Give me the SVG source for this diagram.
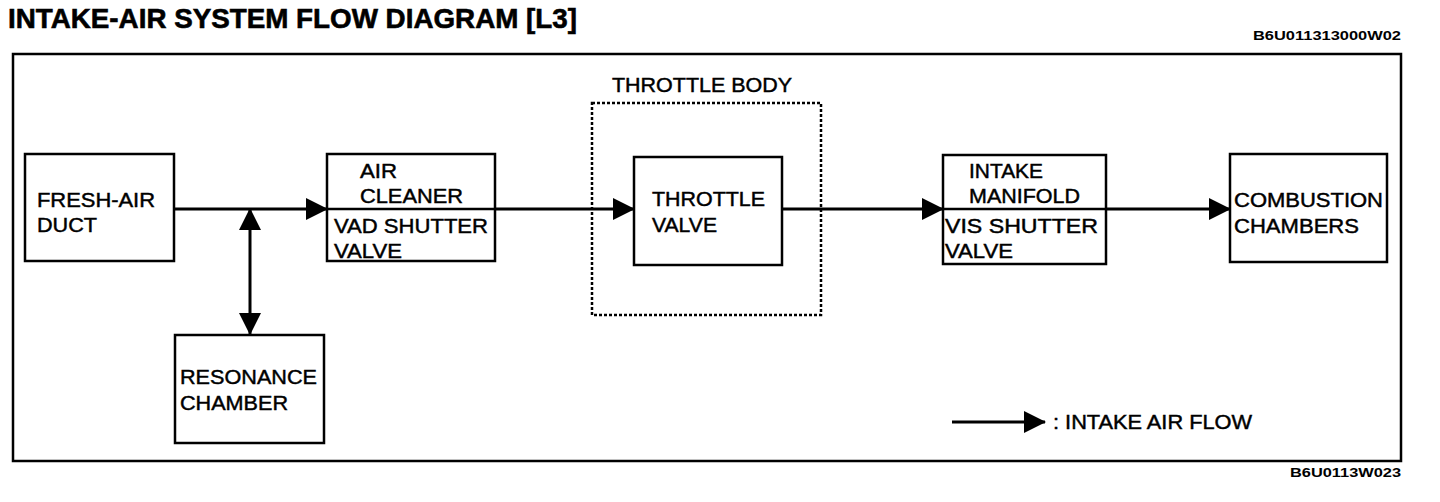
<svg xmlns="http://www.w3.org/2000/svg" width="1440" height="502" viewBox="0 0 1440 502">
<style>
  .box { fill: #fff; stroke: #000; stroke-width: 2.5; }
  .lbl { font-family: "Liberation Sans", Arial, sans-serif; font-size: 20px; fill: #000; stroke: #000; stroke-width: 0.45; }
  .code { font-family: "Liberation Sans", Arial, sans-serif; font-size: 12.5px; font-weight: bold; fill: #000; }
  .flow { stroke: #000; stroke-width: 3; fill: none; }
</style>
<defs>
  <marker id="ah" markerUnits="userSpaceOnUse" markerWidth="22" markerHeight="22" refX="21" refY="11" orient="auto" viewBox="0 0 22 22">
    <path d="M0,0 L22,11 L0,22 Z" fill="#000"/>
  </marker>
  <marker id="ahs" markerUnits="userSpaceOnUse" markerWidth="22" markerHeight="22" refX="21" refY="11" orient="auto-start-reverse" viewBox="0 0 22 22">
    <path d="M0,0 L22,11 L0,22 Z" fill="#000"/>
  </marker>
</defs>
<rect width="1440" height="502" fill="#fff"/>
<text x="8" y="28" font-family="Liberation Sans, Arial, sans-serif" font-size="28" font-weight="bold" stroke="#000" stroke-width="0.6" textLength="569" lengthAdjust="spacingAndGlyphs">INTAKE-AIR SYSTEM FLOW DIAGRAM [L3]</text>
<text class="code" x="1253" y="40" textLength="148" lengthAdjust="spacingAndGlyphs">B6U011313000W02</text>
<rect x="13" y="54" width="1388" height="407" fill="none" stroke="#000" stroke-width="2.5"/>
<text class="code" x="1290" y="477" textLength="111" lengthAdjust="spacingAndGlyphs">B6U0113W023</text>

<g id="throttle-body">
  <rect x="592" y="103" width="229" height="212" fill="none" stroke="#000" stroke-width="2.5" stroke-dasharray="3,2"/>
  <text class="lbl" x="612" y="92" textLength="180" lengthAdjust="spacingAndGlyphs">THROTTLE BODY</text>
</g>

<g id="connectors">
  <line class="flow" x1="174" y1="209" x2="327" y2="209" marker-end="url(#ah)"/>
  <line class="flow" x1="495" y1="209" x2="634" y2="209" marker-end="url(#ah)"/>
  <line class="flow" x1="782" y1="209" x2="943" y2="209" marker-end="url(#ah)"/>
  <line class="flow" x1="1106" y1="209" x2="1230" y2="209" marker-end="url(#ah)"/>
  <line class="flow" x1="250" y1="209" x2="250" y2="334" marker-start="url(#ahs)" marker-end="url(#ah)"/>
</g>

<g id="fresh-air-duct">
  <rect class="box" x="25" y="154" width="149" height="107"/>
  <text class="lbl" x="37" y="207" textLength="118" lengthAdjust="spacingAndGlyphs">FRESH-AIR</text>
  <text class="lbl" x="37" y="232" textLength="60" lengthAdjust="spacingAndGlyphs">DUCT</text>
</g>

<g id="air-cleaner">
  <rect class="box" x="327" y="154" width="168" height="107"/>
  <line x1="327" y1="209" x2="495" y2="209" stroke="#000" stroke-width="2.5"/>
  <text class="lbl" x="360" y="178" textLength="37" lengthAdjust="spacingAndGlyphs">AIR</text>
  <text class="lbl" x="360" y="203" textLength="103" lengthAdjust="spacingAndGlyphs">CLEANER</text>
  <text class="lbl" x="334" y="233" textLength="154" lengthAdjust="spacingAndGlyphs">VAD SHUTTER</text>
  <text class="lbl" x="334" y="258" textLength="68" lengthAdjust="spacingAndGlyphs">VALVE</text>
</g>

<g id="resonance-chamber">
  <rect class="box" x="175" y="335" width="149" height="108"/>
  <text class="lbl" x="180" y="384" textLength="137" lengthAdjust="spacingAndGlyphs">RESONANCE</text>
  <text class="lbl" x="180" y="410" textLength="108" lengthAdjust="spacingAndGlyphs">CHAMBER</text>
</g>

<g id="throttle-valve">
  <rect class="box" x="634" y="157" width="148" height="108"/>
  <text class="lbl" x="652" y="206" textLength="113" lengthAdjust="spacingAndGlyphs">THROTTLE</text>
  <text class="lbl" x="652" y="232" textLength="65" lengthAdjust="spacingAndGlyphs">VALVE</text>
</g>

<g id="intake-manifold">
  <rect class="box" x="943" y="155" width="163" height="109"/>
  <line x1="943" y1="209" x2="1106" y2="209" stroke="#000" stroke-width="2.5"/>
  <text class="lbl" x="969" y="178" textLength="74" lengthAdjust="spacingAndGlyphs">INTAKE</text>
  <text class="lbl" x="969" y="203" textLength="111" lengthAdjust="spacingAndGlyphs">MANIFOLD</text>
  <text class="lbl" x="945" y="233" textLength="153" lengthAdjust="spacingAndGlyphs">VIS SHUTTER</text>
  <text class="lbl" x="945" y="258" textLength="68" lengthAdjust="spacingAndGlyphs">VALVE</text>
</g>

<g id="combustion-chambers">
  <rect class="box" x="1230" y="154" width="157" height="108"/>
  <text class="lbl" x="1234" y="207" textLength="149" lengthAdjust="spacingAndGlyphs">COMBUSTION</text>
  <text class="lbl" x="1234" y="233" textLength="125" lengthAdjust="spacingAndGlyphs">CHAMBERS</text>
</g>

<g id="legend">
  <line class="flow" x1="952" y1="422" x2="1045" y2="422" marker-end="url(#ah)"/>
  <text class="lbl" x="1053" y="429" textLength="199" lengthAdjust="spacingAndGlyphs">: INTAKE AIR FLOW</text>
</g>
</svg>
